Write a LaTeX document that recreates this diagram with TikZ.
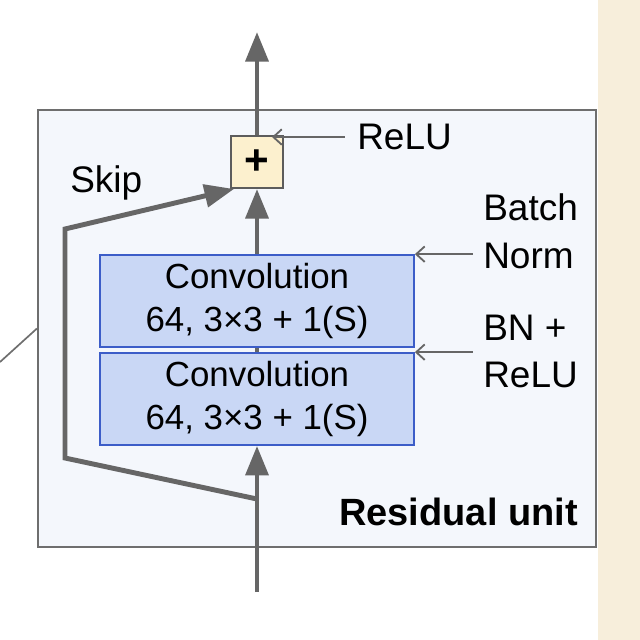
\documentclass[tikz,border=0pt]{standalone}
\usepackage{fontspec}
\setmainfont{Liberation Sans}
\usetikzlibrary{arrows.meta}
\definecolor{unitfill}{HTML}{F4F7FC}
\definecolor{unitline}{HTML}{6E6E6E}
\definecolor{convfill}{HTML}{C9D7F5}
\definecolor{convline}{HTML}{3C5DC8}
\definecolor{plusfill}{HTML}{FCF0CE}
\definecolor{flowgray}{HTML}{666666}
\definecolor{sidebar}{HTML}{F7EEDB}
\begin{document}
\begin{tikzpicture}[x=0.025cm, y=-0.025cm,
    unit box/.style={draw=unitline, fill=unitfill, line width=1.4pt, minimum width=13.95cm, minimum height=10.925cm, inner sep=0pt},
    conv box/.style={draw=convline, fill=convfill, line width=1.2pt, minimum width=7.85cm, minimum height=2.3cm, inner sep=0pt, align=center, font=\fontsize{24.8}{30}\selectfont},
    plus box/.style={draw=flowgray!90!black, fill=plusfill, line width=1.4pt, minimum size=1.3cm, inner sep=0pt, font=\fontsize{30}{30}\selectfont\bfseries},
    note/.style={align=left, inner sep=0pt, font=\fontsize{26.3}{34}\selectfont},
    flow/.style={draw=flowgray, line width=3.5pt, -{Triangle[length=21pt, width=16pt]}},
    pointer/.style={draw=flowgray, line width=1.3pt, -{Straight Barb[length=6pt, width=11pt]}}]

    \useasboundingbox (0,0) rectangle (640,640);
    \fill[sidebar] (598,0) rectangle (640,640);

    \node[unit box] at (317,328.5) (unit) {};
    \node[conv box] at (257,301) (conv1) {Convolution\\64, 3×3 + 1(S)};
    \node[conv box] at (257,399) (conv2) {Convolution\\64, 3×3 + 1(S)};
    \node[plus box] at (257,162) (plus) {+};

    \node[note, anchor=west] at (357,137) (relu) {ReLU};
    \node[note, anchor=west] at (483,231) (bnorm) {Batch\\Norm};
    \node[note, anchor=west] at (483,351.5) (bnrelu) {BN +\\ReLU};
    \node[note, anchor=west] at (70,183) (skip) {Skip};
    \node[note, anchor=east, font=\fontsize{27}{27}\selectfont\bfseries] at (578,512) (title) {Residual unit};

    \coordinate (in) at (257,592);
    \coordinate (out) at (257,32);
    \coordinate (fork) at (257,499);
    \coordinate (skipa) at (65,458);
    \coordinate (skipb) at (65,229);
    \coordinate (zoomsrc) at (0,362);

    \draw[unitline, line width=1.2pt] (zoomsrc) -- (unit.west);

    \draw[flow] (in) -- (conv2.south);
    \draw[flowgray, line width=3.5pt] (conv2.north) -- (conv1.south);
    \draw[flow] (conv1.north) -- (plus.south);
    \draw[flow] (plus.north) -- (out);
    \draw[flow, line join=miter] (fork) -- (skipa) -- (skipb) -- ([xshift=0.1cm]plus.south west);

    \draw[pointer] ([xshift=-0.3cm]relu.west) -- ([xshift=-0.3cm]relu.west -| plus.east);
    \draw[pointer] ([xshift=-0.25cm]bnorm.west |- conv1.north east) -- (conv1.north east);
    \draw[pointer] ([xshift=-0.25cm]bnrelu.west |- conv2.north east) -- (conv2.north east);
\end{tikzpicture}
\end{document}
